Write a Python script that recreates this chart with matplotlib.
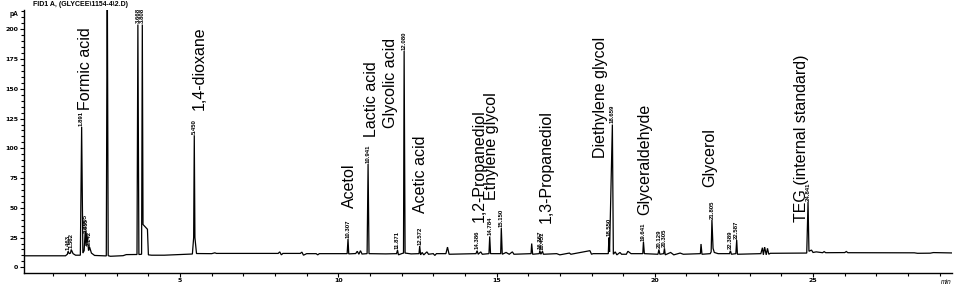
import matplotlib
matplotlib.use("Agg")
import matplotlib.pyplot as plt
from matplotlib.ticker import MultipleLocator

# ---------------- data ----------------
# chromatogram trace (retention time [min], signal [pA])
trace_time = [0.00, 1.38, 1.44, 1.463, 1.50, 1.54, 1.562, 1.62, 1.70, 1.85, 1.891, 1.93, 1.97,
              2.005, 2.03, 2.055, 2.09, 2.11, 2.142, 2.20, 2.30, 2.67, 2.70, 2.73, 2.80,
              3.20, 3.30, 3.64, 3.668, 3.70, 3.785, 3.808, 3.83, 3.97, 4.00, 4.10, 4.50, 5.00,
              5.39, 5.43, 5.45, 5.47, 5.52, 6.00, 6.10, 6.15, 8.10, 8.15, 8.20, 8.25, 8.80, 8.85,
              8.90, 9.00, 9.30, 9.35, 9.40, 10.28, 10.307, 10.33, 10.55, 10.60, 10.65, 10.70,
              10.75, 10.91, 10.941, 10.97, 11.50, 11.84, 11.871, 11.90, 12.00, 12.06, 12.080,
              12.11, 12.30, 12.55, 12.572, 12.60, 12.65, 12.70, 12.80, 12.85, 13.00, 13.05,
              13.10, 13.40, 13.45, 13.50, 14.35, 14.386, 14.42, 14.50, 14.55, 14.76, 14.784,
              14.81, 15.13, 15.150, 15.18, 15.30, 15.40, 15.50, 15.55, 16.09, 16.11, 16.14,
              16.35, 16.367, 16.40, 16.451, 16.48, 16.90, 17.00, 17.30, 17.35, 17.95, 18.00,
              18.05, 18.53, 18.550, 18.57, 18.659, 18.69, 18.75, 18.80, 18.90, 18.95, 19.10,
              19.15, 19.25, 19.62, 19.641, 19.67, 20.10, 20.129, 20.16, 20.28, 20.305, 20.33,
              20.50, 20.60, 20.80, 20.90, 21.44, 21.46, 21.49, 21.75, 21.78, 21.805, 21.84,
              21.88, 22.00, 22.36, 22.389, 22.42, 22.56, 22.587, 22.61, 23.35, 23.40, 23.43,
              23.47, 23.52, 23.56, 23.60, 23.65, 24.80, 24.841, 24.87, 24.95, 25.00, 25.10,
              25.30, 25.35, 25.40, 26.00, 26.05, 26.10, 28.20, 28.30, 28.70, 28.80, 29.38]
trace_signal = [9.7, 9.7, 11.0, 13.5, 11.5, 12.0, 15.0, 11.5, 10.2, 10.2, 118.0, 12.0, 14.0,
                31.0, 18.0, 28.0, 20.0, 14.0, 17.0, 12.0, 10.0, 9.6, 260.0, 9.8, 9.3,
                9.8, 10.7, 10.8, 204.0, 10.8, 11.0, 204.0, 36.0, 32.0, 10.5, 10.2, 10.2, 10.8,
                11.2, 25.0, 111.0, 25.0, 11.6, 11.5, 12.2, 11.7, 11.7, 13.0, 10.5, 11.7, 11.7, 12.8,
                10.2, 11.5, 11.5, 10.5, 11.5, 11.5, 24.0, 11.3, 11.6, 13.5, 11.0, 14.0,
                11.2, 11.5, 87.0, 11.5, 11.3, 11.5, 14.5, 10.5, 11.5, 12.0, 182.0,
                12.0, 11.3, 11.5, 18.0, 10.5, 12.5, 10.5, 13.0, 11.0, 11.5, 10.0,
                11.5, 11.5, 17.0, 11.0, 11.5, 14.0, 11.0, 13.0, 11.0, 11.5, 26.0,
                11.5, 11.5, 33.0, 11.0, 12.5, 11.0, 13.0, 11.0, 11.5, 20.0, 11.0,
                11.5, 14.0, 11.0, 13.5, 11.0, 11.5, 10.5, 12.0, 11.0, 14.0, 11.0,
                11.5, 11.5, 25.0, 13.0, 120.0, 11.0, 13.0, 10.5, 12.5, 11.0, 11.0,
                13.5, 11.5, 11.5, 21.5, 11.5, 11.0, 15.0, 11.0, 11.5, 16.0, 10.5,
                12.5, 10.5, 12.0, 11.0, 11.5, 19.6, 11.0, 11.5, 13.0, 40.0, 16.0,
                12.5, 11.5, 11.5, 14.0, 11.0, 11.5, 23.0, 11.0, 11.5, 16.5, 10.5,
                17.0, 10.5, 16.0, 11.0, 11.8, 12.0, 55.0, 13.5, 14.5, 12.5, 13.0,
                12.3, 13.2, 12.3, 12.4, 13.3, 12.3, 12.2, 11.8, 11.9, 12.4, 12.1]

# retention-time labels of integrated peaks
rt_labels = ["1.463", "1.562", "1.891", "2.005", "2.055", "2.142", "3.668", "3.808", "5.450",
             "10.307", "10.941", "11.871", "12.080", "12.572", "14.386", "14.784", "15.150",
             "16.367", "16.451", "18.550", "18.659", "19.641", "20.129", "20.305", "21.805",
             "22.389", "22.587", "24.841"]
rt_heights = [13.5, 15.0, 118.0, 31.0, 28.0, 17.0, 204.0, 204.0, 111.0,
              24.0, 87.0, 14.5, 182.0, 18.0, 14.0, 26.0, 33.0,
              14.0, 13.5, 25.0, 120.0, 21.5, 15.0, 16.0, 40.0,
              14.0, 23.0, 55.0]

# compound names (x = retention time, y = bottom of the rotated text, pA)
compounds = ["Formic acid", "1,4-dioxane", "Acetol", "Lactic acid", "Glycolic acid",
             "Acetic acid", "1,2-Propanediol", "Ethylene glycol", "1,3-Propanediol",
             "Diethylene glycol", "Glyceraldehyde", "Glycerol", "TEG (internal standard)"]
compound_x = [2.00, 5.60, 10.35, 11.06, 11.66, 12.61, 14.44, 14.85, 16.58, 18.27, 19.69, 21.74, 24.62]
compound_y = [132, 132, 50, 109.5, 117, 45.6, 38, 56.5, 37, 92, 44, 67.7, 38]

x_ticks = [5, 10, 15, 20, 25]
y_ticks = [0, 25, 50, 75, 100, 125, 150, 175, 200]

# ---------------- figure ----------------
fig = plt.figure(figsize=(9.57, 2.88), dpi=100)
ax = fig.add_axes([24 / 957, 15.3 / 288, (951.7 - 24) / 957, (272.7 - 10) / 288])
ax.plot(trace_time, trace_signal, color="black", lw=0.9, solid_joinstyle="miter")
ax.set_xlim(0.07, 29.38)
ax.set_ylim(-4.5, 216.2)

for s in ("top", "right"):
    ax.spines[s].set_visible(False)
for s in ("left", "bottom"):
    ax.spines[s].set_linewidth(1.0)

ax.set_xticks(x_ticks)
ax.set_yticks(y_ticks)
ax.xaxis.set_minor_locator(MultipleLocator(1))
ax.yaxis.set_minor_locator(MultipleLocator(5))
ax.tick_params(which="both", direction="out", length=2.2, width=0.8, pad=1.5,
               labelsize=4.5)
ax.tick_params(which="major", length=2.6)
for lab in ax.get_xticklabels() + ax.get_yticklabels():
    lab.set_fontweight("bold")

rt_times = [float(s) for s in rt_labels]
for t, h, s in zip(rt_times, rt_heights, rt_labels):
    ax.text(t, h + 1.0, s, rotation=90, ha="center", va="bottom",
            fontsize=4.3, fontweight="bold", family="Liberation Sans", clip_on=False)

for name, x, y in zip(compounds, compound_x, compound_y):
    ax.text(x, y, name, rotation=90, ha="center", va="bottom",
            fontsize=11.5, family="Liberation Sans")

fig.text(33 / 957, 1 - 1.5 / 288, "FID1 A, (GLYCEE\\1154-4\\2.D)", ha="left", va="top",
         fontsize=5, fontweight="bold", family="Liberation Sans")
fig.text(14 / 957, 1 - 14 / 288, "pA", ha="center", va="center",
         fontsize=4.8, fontweight="bold", family="Liberation Sans")
fig.text(946 / 957, 1 - 283 / 288, "min", ha="center", va="center",
         fontsize=4.8, fontstyle="italic", family="Liberation Sans")

fig.savefig("out.png", dpi=100)
